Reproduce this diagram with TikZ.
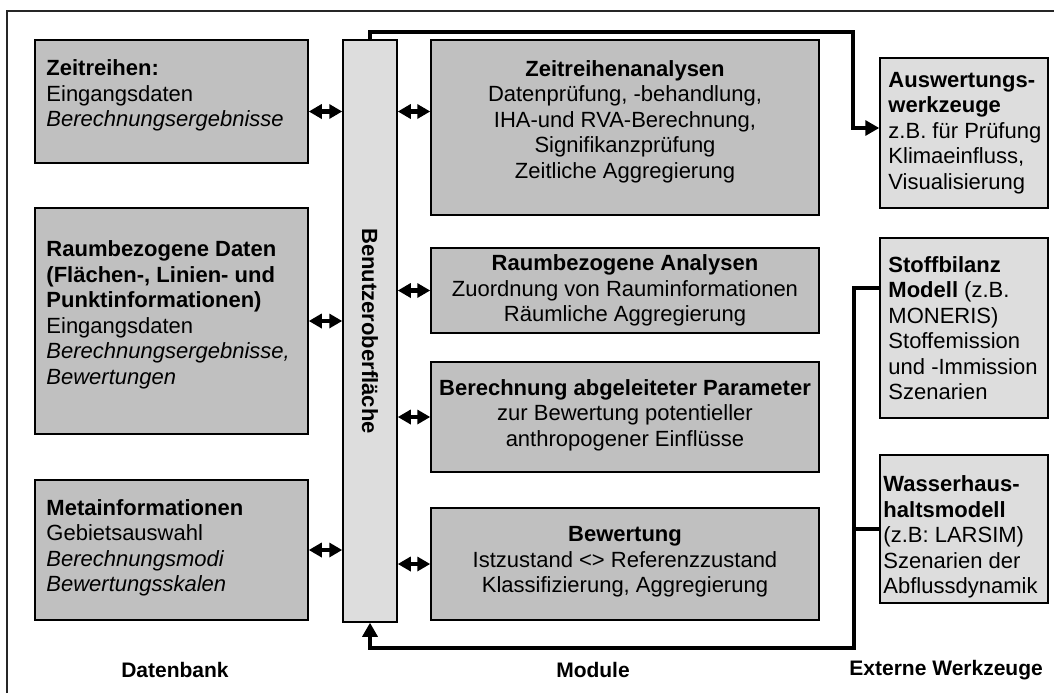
\documentclass[tikz,border=0pt]{standalone}
\usepackage{fontspec}
\setmainfont{Liberation Sans}
\usetikzlibrary{arrows.meta}
\definecolor{darkbox}{HTML}{C0C0C0}
\definecolor{lightbox}{HTML}{DDDDDD}
\tikzset{
  boxbase/.style={draw=black, line width=1.5pt, inner sep=0pt},
  dbox/.style={boxbase, fill=darkbox},
  lbox/.style={boxbase, fill=lightbox},
  txtl/.style={align=left, inner sep=0pt, font=\fontsize{22}{25.5}\selectfont},
  txtc/.style={align=center, inner sep=0pt, font=\fontsize{22}{25.5}\selectfont},
  conn/.style={line width=3.2pt},
  tip/.style={-{Triangle[length=14pt,width=15pt]}},
  dbl/.style={line width=4.5pt, {Triangle[length=13pt,width=14pt]}-{Triangle[length=13pt,width=14pt]}},
  foot/.style={font=\fontsize{21}{25}\selectfont\bfseries, inner sep=0pt}
}
\newcommand{\mkbox}[6]{% style, name, x1, y1, x2, y2
  \node[#1, minimum width={#5-#3}, minimum height={#6-#4}] (#2) at ({(#3+#5)/2},{(#4+#6)/2}) {};}
\begin{document}
\begin{tikzpicture}[x=1pt,y=-1pt]
\useasboundingbox (0,0) rectangle (1054,693);
\draw[line width=1.5pt, black!85] (7,693) -- (7,11) -- (1054,11);

% left column
\mkbox{dbox}{zr}{35}{40}{308}{163}
\mkbox{dbox}{rd}{35}{208}{308}{434}
\mkbox{dbox}{mi}{35}{480}{308}{620}
% user interface
\mkbox{lbox}{ui}{343}{40}{397}{622}
% modules
\mkbox{dbox}{za}{431}{40}{819}{215}
\mkbox{dbox}{ra}{431}{248}{819}{333}
\mkbox{dbox}{bp}{431}{362}{819}{472}
\mkbox{dbox}{bw}{431}{508}{819}{620}
% external tools
\mkbox{lbox}{aw}{880}{58}{1048}{208}
\mkbox{lbox}{sb}{880}{238}{1048}{418}
\mkbox{lbox}{wh}{880}{455}{1048}{603}

% texts
\node[txtl, anchor=west] (zrt) at ([xshift=12pt,yshift=6pt]zr.west) {\textbf{Zeitreihen:}\\Eingangsdaten\\\textit{Berechnungsergebnisse}};
\node[txtl, anchor=west] (rdt) at ([xshift=12pt,yshift=6pt]rd.west) {\textbf{Raumbezogene Daten}\\\textbf{(Flächen-, Linien- und}\\\textbf{Punktinformationen)}\\Eingangsdaten\\\textit{Berechnungsergebnisse,}\\\textit{Bewertungen}};
\node[txtl, anchor=west] (mit) at ([xshift=12pt,yshift=2pt]mi.west) {\textbf{Metainformationen}\\Gebietsauswahl\\\textit{Berechnungsmodi}\\\textit{Bewertungsskalen}};
\node[txtc, rotate=-90, font=\fontsize{22}{25.5}\selectfont\bfseries] (uit) at (ui.center) {Benutzeroberfläche};
\node[txtc] (zat) at ([yshift=6pt]za.center) {\textbf{Zeitreihenanalysen}\\Datenprüfung, -behandlung,\\IHA-und RVA-Berechnung,\\Signifikanzprüfung\\Zeitliche Aggregierung};
\node[txtc] (rat) at ([yshift=0pt]ra.center) {\textbf{Raumbezogene Analysen}\\Zuordnung von Rauminformationen\\Räumliche Aggregierung};
\node[txtc] (bpt) at ([yshift=2pt]bp.center) {\textbf{Berechnung abgeleiteter Parameter}\\zur Bewertung potentieller\\anthropogener Einflüsse};
\node[txtc] (bwt) at ([yshift=2pt]bw.center) {\textbf{Bewertung}\\Istzustand <> Referenzzustand\\Klassifizierung, Aggregierung};
\node[txtl, anchor=west] (awt) at ([xshift=9pt]aw.west) {\textbf{Auswertungs-}\\\textbf{werkzeuge}\\z.B. für Prüfung\\Klimaeinfluss,\\Visualisierung};
\node[txtl, anchor=west] (sbt) at ([xshift=9pt]sb.west) {\textbf{Stoffbilanz}\\\textbf{Modell} (z.B.\\MONERIS)\\Stoffemission\\und -Immission\\Szenarien};
\node[txtl, anchor=west] (wht) at ([xshift=4pt,yshift=-8pt]wh.west) {\textbf{Wasserhaus-}\\\textbf{haltsmodell}\\(z.B: LARSIM)\\Szenarien der\\Abflussdynamik};

% footer labels
\node[foot] (l1) at (175,670) {Datenbank};
\node[foot] (l2) at (593,670) {Module};
\node[foot, anchor=east] (l3) at (1043,670) {Externe Werkzeuge};

% double arrows
\coordinate (a1) at ([yshift=-10pt]zr.east);
\coordinate (a4) at ([yshift=16pt]za.west);
\draw[dbl] (a1) -- (a1 -| ui.west);
\draw[dbl] (rd.east) -- (rd.east -| ui.west);
\draw[dbl] (mi.east) -- (mi.east -| ui.west);
\draw[dbl] (a4 -| ui.east) -- (a4);
\draw[dbl] (ra.west -| ui.east) -- (ra.west);
\draw[dbl] (bp.west -| ui.east) -- (bp.west);
\draw[dbl] (bw.west -| ui.east) -- (bw.west);

% connectors
\coordinate (tc) at (853,32);
\coordinate (bc) at (854,648);
\coordinate (awin) at ([yshift=5pt]aw.west);
\coordinate (sbin) at ([yshift=40pt]sb.west);
\draw[conn, tip] (ui.north) |- (tc) |- (awin);
\draw[conn, tip] (sbin) -| (bc) -| (ui.south);
\draw[conn] (wh.west) -- (wh.west -| bc);
\end{tikzpicture}
\end{document}
